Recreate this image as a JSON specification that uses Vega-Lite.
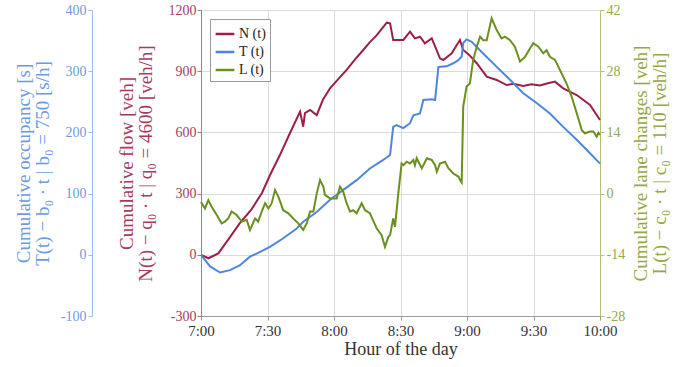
{
  "$schema": "https://vega.github.io/schema/vega-lite/v6.json",
  "width": 399,
  "height": 306,
  "autosize": "none",
  "padding": {"left": 201, "top": 10, "right": 77, "bottom": 51},
  "background": "white",
  "config": {
    "view": {"stroke": "#cfcfcf"},
    "font": "Liberation Serif",
    "axis": {"labelFont": "Liberation Serif", "titleFont": "Liberation Serif", "labelFontSize": 14, "titleFontSize": 19, "titleLineHeight": 19, "titleFontWeight": "normal", "tickSize": 4}
  },
  "data": {"values": [
    {"s":"N","m":0,"v":0},{"s":"N","m":3.3,"v":-17},{"s":"N","m":7.8,"v":7},{"s":"N","m":12.2,"v":73},{"s":"N","m":17.6,"v":156},{"s":"N","m":22.6,"v":220},{"s":"N","m":27.5,"v":303},{"s":"N","m":31.1,"v":390},{"s":"N","m":35.6,"v":489},{"s":"N","m":40.1,"v":596},{"s":"N","m":44.7,"v":702},{"s":"N","m":46.1,"v":628},{"s":"N","m":46.9,"v":695},{"s":"N","m":49.2,"v":710},{"s":"N","m":52.2,"v":685},{"s":"N","m":55.0,"v":760},{"s":"N","m":58.2,"v":816},{"s":"N","m":62.0,"v":862},{"s":"N","m":65.7,"v":906},{"s":"N","m":69.5,"v":958},{"s":"N","m":73.2,"v":1004},{"s":"N","m":76.0,"v":1040},{"s":"N","m":79.3,"v":1077},{"s":"N","m":83.8,"v":1138},{"s":"N","m":85.3,"v":1135},{"s":"N","m":86.7,"v":1053},{"s":"N","m":91.3,"v":1053},{"s":"N","m":94.3,"v":1094},{"s":"N","m":96.5,"v":1061},{"s":"N","m":98.8,"v":1069},{"s":"N","m":101,"v":1037},{"s":"N","m":104.1,"v":1061},{"s":"N","m":107.8,"v":963},{"s":"N","m":109.3,"v":955},{"s":"N","m":113.1,"v":988},{"s":"N","m":116.8,"v":1053},{"s":"N","m":118.3,"v":1004},{"s":"N","m":121.0,"v":980},{"s":"N","m":124.4,"v":939},{"s":"N","m":128.9,"v":873},{"s":"N","m":133.4,"v":857},{"s":"N","m":137.9,"v":832},{"s":"N","m":141.0,"v":838},{"s":"N","m":145.4,"v":828},{"s":"N","m":149.0,"v":836},{"s":"N","m":152.9,"v":830},{"s":"N","m":156.0,"v":840},{"s":"N","m":159.7,"v":849},{"s":"N","m":163.4,"v":816},{"s":"N","m":169.5,"v":783},{"s":"N","m":175.5,"v":734},{"s":"N","m":180,"v":661},
    {"s":"T","m":0,"v":0},{"s":"T","m":4.1,"v":-19},{"s":"T","m":8.6,"v":-29},{"s":"T","m":13.1,"v":-25},{"s":"T","m":17.6,"v":-17},{"s":"T","m":22.1,"v":-3},{"s":"T","m":25.1,"v":2},{"s":"T","m":31.1,"v":13},{"s":"T","m":37.1,"v":27},{"s":"T","m":43.2,"v":43},{"s":"T","m":46.1,"v":54},{"s":"T","m":52.2,"v":70},{"s":"T","m":58.2,"v":90},{"s":"T","m":64.2,"v":106},{"s":"T","m":70.2,"v":122},{"s":"T","m":76.2,"v":141},{"s":"T","m":82.2,"v":155},{"s":"T","m":85.3,"v":163},{"s":"T","m":86.7,"v":209},{"s":"T","m":88.2,"v":212},{"s":"T","m":91.3,"v":207},{"s":"T","m":94.3,"v":215},{"s":"T","m":95.8,"v":228},{"s":"T","m":98.8,"v":231},{"s":"T","m":100.3,"v":253},{"s":"T","m":104.1,"v":254},{"s":"T","m":105.6,"v":253},{"s":"T","m":107.1,"v":307},{"s":"T","m":110.8,"v":308},{"s":"T","m":113.8,"v":313},{"s":"T","m":116.1,"v":318},{"s":"T","m":117.6,"v":324},{"s":"T","m":118.3,"v":346},{"s":"T","m":119.8,"v":352},{"s":"T","m":122.1,"v":348},{"s":"T","m":127.3,"v":329},{"s":"T","m":133.4,"v":307},{"s":"T","m":139.4,"v":286},{"s":"T","m":145.4,"v":264},{"s":"T","m":151.4,"v":248},{"s":"T","m":157.4,"v":231},{"s":"T","m":163.4,"v":209},{"s":"T","m":169.5,"v":188},{"s":"T","m":175.5,"v":166},{"s":"T","m":180,"v":149},
    {"s":"L","m":0,"v":-1.9},{"s":"L","m":1.8,"v":-3.4},{"s":"L","m":3.3,"v":-1.5},{"s":"L","m":4.8,"v":-3},{"s":"L","m":7.1,"v":-4.9},{"s":"L","m":9.3,"v":-6.8},{"s":"L","m":10.8,"v":-6.4},{"s":"L","m":12.3,"v":-5.7},{"s":"L","m":13.8,"v":-4.1},{"s":"L","m":16.1,"v":-4.9},{"s":"L","m":18.4,"v":-6.4},{"s":"L","m":20.6,"v":-6},{"s":"L","m":22.1,"v":-8.3},{"s":"L","m":24.4,"v":-5.7},{"s":"L","m":25.8,"v":-6.4},{"s":"L","m":27.4,"v":-4.1},{"s":"L","m":28.9,"v":-2.2},{"s":"L","m":30.4,"v":-3.4},{"s":"L","m":31.9,"v":-2.2},{"s":"L","m":33.4,"v":0.8},{"s":"L","m":34.9,"v":-0.7},{"s":"L","m":37.1,"v":-3.8},{"s":"L","m":39.4,"v":-4.5},{"s":"L","m":41.6,"v":-5.7},{"s":"L","m":43.9,"v":-6.8},{"s":"L","m":46.1,"v":-8.3},{"s":"L","m":47.7,"v":-6.8},{"s":"L","m":49.2,"v":-4.1},{"s":"L","m":50.7,"v":-4.1},{"s":"L","m":52.2,"v":0},{"s":"L","m":53.7,"v":3.1},{"s":"L","m":55.2,"v":1.6},{"s":"L","m":55.9,"v":-0.3},{"s":"L","m":58.2,"v":-1.1},{"s":"L","m":61.2,"v":-1.1},{"s":"L","m":62.7,"v":1.6},{"s":"L","m":64.2,"v":0.4},{"s":"L","m":65.7,"v":-2.2},{"s":"L","m":67.2,"v":-4.1},{"s":"L","m":68.7,"v":-3.8},{"s":"L","m":70.2,"v":-4.5},{"s":"L","m":72.5,"v":-2.2},{"s":"L","m":74,"v":-3.8},{"s":"L","m":76.2,"v":-4.5},{"s":"L","m":79.3,"v":-8},{"s":"L","m":81.5,"v":-9.5},{"s":"L","m":83,"v":-12.2},{"s":"L","m":84.5,"v":-9.9},{"s":"L","m":85.3,"v":-9.5},{"s":"L","m":86.7,"v":-5.7},{"s":"L","m":87.5,"v":-7.6},{"s":"L","m":89,"v":0},{"s":"L","m":90.5,"v":6.9},{"s":"L","m":91.3,"v":6.5},{"s":"L","m":92.8,"v":7.3},{"s":"L","m":94.3,"v":6.9},{"s":"L","m":95.8,"v":7.7},{"s":"L","m":96.5,"v":6.5},{"s":"L","m":97.3,"v":8.1},{"s":"L","m":99.6,"v":5.8},{"s":"L","m":101.9,"v":8.1},{"s":"L","m":104.1,"v":7.7},{"s":"L","m":105.6,"v":6.5},{"s":"L","m":106.4,"v":5},{"s":"L","m":107.8,"v":6.9},{"s":"L","m":110.1,"v":7.3},{"s":"L","m":111.6,"v":5.8},{"s":"L","m":113.8,"v":4.6},{"s":"L","m":116.1,"v":3.9},{"s":"L","m":117.3,"v":2.7},{"s":"L","m":117.6,"v":2.5},{"s":"L","m":118.3,"v":19.9},{"s":"L","m":119.8,"v":24.5},{"s":"L","m":121.3,"v":25.2},{"s":"L","m":122.8,"v":30.6},{"s":"L","m":124.4,"v":33.6},{"s":"L","m":125.9,"v":35.9},{"s":"L","m":127.3,"v":35.1},{"s":"L","m":128.9,"v":35.1},{"s":"L","m":131.1,"v":40.1},{"s":"L","m":133.4,"v":37.4},{"s":"L","m":135.6,"v":35.5},{"s":"L","m":137.1,"v":35.9},{"s":"L","m":139.4,"v":35.1},{"s":"L","m":141.6,"v":33.6},{"s":"L","m":143.9,"v":30.2},{"s":"L","m":146.2,"v":31.3},{"s":"L","m":148.4,"v":33.2},{"s":"L","m":149.9,"v":34.4},{"s":"L","m":152.2,"v":33.6},{"s":"L","m":154.4,"v":32.1},{"s":"L","m":155.9,"v":32.8},{"s":"L","m":157.4,"v":31.3},{"s":"L","m":159.7,"v":30.6},{"s":"L","m":161.9,"v":28.3},{"s":"L","m":164.9,"v":25.2},{"s":"L","m":167.2,"v":22.2},{"s":"L","m":169.5,"v":18.4},{"s":"L","m":171.8,"v":14.5},{"s":"L","m":173.2,"v":13.8},{"s":"L","m":175.5,"v":14.2},{"s":"L","m":177,"v":14.2},{"s":"L","m":178.5,"v":13},{"s":"L","m":179.3,"v":13.9},{"s":"L","m":180,"v":13.4}
  ]},
  "encoding": {
    "x": {"field": "m", "type": "quantitative",
      "scale": {"domain": [0, 180], "nice": false},
      "axis": {"values": [0, 30, 60, 90, 120, 150, 180],
        "labelExpr": "(floor(datum.value/60)+7) + ':' + (datum.value % 60 == 0 ? '00' : '30')",
        "labelFont": "Liberation Serif", "titleFont": "Liberation Serif",
        "title": "Hour of the day", "titleFontSize": 18, "titleColor": "#333", "labelColor": "#333", "labelFontSize": 15,
        "domainColor": "#999", "tickColor": "#999", "gridColor": "#dcdcdc", "labelPadding": 3, "titlePadding": 2, "labelFlush": false}},
    "color": {"field": "s", "type": "nominal",
      "scale": {"domain": ["N", "T", "L"], "range": ["#9c1f49", "#4f86db", "#6a9020"]},
      "legend": {"orient": "none", "legendX": 9, "legendY": 9, "title": null,
        "labelExpr": "datum.label + ' (t)'", "labelFont": "Liberation Serif", "labelFontSize": 14, "labelColor": "#222",
        "symbolType": "stroke", "symbolStrokeWidth": 2.5, "symbolSize": 350,
        "strokeColor": "#999", "fillColor": "white", "padding": 4, "rowPadding": 0, "labelOffset": 3}}
  },
  "layer": [
    {"transform": [{"filter": "datum.s == 'N'"}],
     "mark": {"type": "line", "strokeWidth": 2},
     "encoding": {"y": {"field": "v", "type": "quantitative",
       "scale": {"domain": [-300, 1200], "nice": false, "zero": false},
       "axis": {"orient": "left", "values": [-300, 0, 300, 600, 900, 1200], "grid": true, "gridColor": "#dcdcdc",
         "labelExpr": "'' + datum.value", "labelFont": "Liberation Serif", "titleFont": "Liberation Serif",
         "domainColor": "#c46b8c", "tickColor": "#c46b8c", "labelColor": "#a63b62", "titleColor": "#a63b62", "labelPadding": 1,
         "title": ["Cumulative flow [veh]", "N(t) − q₀ · t  |  q₀ = 4600 [veh/h]"], "titlePadding": 13}}}},
    {"transform": [{"filter": "datum.s == 'T'"}],
     "mark": {"type": "line", "strokeWidth": 2},
     "encoding": {"y": {"field": "v", "type": "quantitative",
       "scale": {"domain": [-100, 400], "nice": false, "zero": false},
       "axis": {"orient": "left", "offset": 109, "values": [-100, 0, 100, 200, 300, 400], "grid": false,
         "labelExpr": "'' + datum.value", "labelFont": "Liberation Serif", "titleFont": "Liberation Serif",
         "domainColor": "#9dbaea", "tickColor": "#9dbaea", "labelColor": "#6d9be0", "titleColor": "#6d9be0", "labelPadding": 2,
         "title": ["Cumulative occupancy [s]", "T(t) − b₀ · t  |  b₀ = 750 [s/h]"], "titlePadding": 8}}}},
    {"transform": [{"filter": "datum.s == 'L'"}],
     "mark": {"type": "line", "strokeWidth": 2},
     "encoding": {"y": {"field": "v", "type": "quantitative",
       "scale": {"domain": [-28, 42], "nice": false, "zero": false},
       "axis": {"orient": "right", "values": [-28, -14, 0, 14, 28, 42], "grid": false,
         "labelExpr": "'' + datum.value", "labelFont": "Liberation Serif", "titleFont": "Liberation Serif",
         "domainColor": "#b5c27a", "tickColor": "#b5c27a", "labelColor": "#95a844", "titleColor": "#95a844", "labelPadding": 2,
         "titleAngle": 270,
         "title": ["Cumulative lane changes [veh]", "L(t) − c₀ · t  |  c₀ = 110 [veh/h]"], "titlePadding": 7}}}}
  ],
  "resolve": {"scale": {"y": "independent"}}
}
